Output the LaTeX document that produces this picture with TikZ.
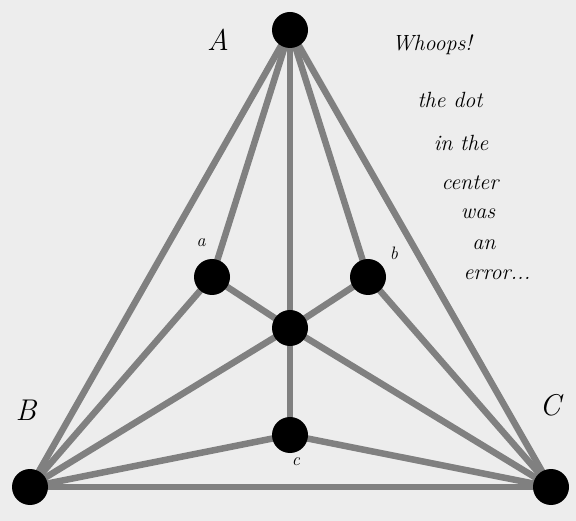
\documentclass[tikz,border=0pt]{standalone}
\begin{document}
\begin{tikzpicture}[x=1pt,y=-1pt,
  dot/.style={circle,fill=black,inner sep=0pt,minimum size=36pt},
  edge/.style={draw=black!50,line width=6.5pt},
  lab/.style={font=\itshape}]
\fill[black!7] (0,0) rectangle (576,521);
\useasboundingbox (0,0) rectangle (576,521);
\coordinate (A) at (290,30);
\coordinate (B) at (30,487);
\coordinate (C) at (551,487);
\coordinate (a) at (212,277);
\coordinate (b) at (368,277);
\coordinate (m) at (290,328);
\coordinate (c) at (290,435);
\foreach \u/\v in {A/B,A/C,B/C,A/a,A/b,A/m,m/c,a/B,a/m,b/m,b/C,m/B,m/C,c/B,c/C}
  \draw[edge] (\u) -- (\v);
\foreach \p in {A,B,C,a,b,m,c}
  \node[dot] (n\p) at (\p) {};
\node[lab,font=\itshape\fontsize{30}{30}\selectfont] (lA) at (218,40) {A};
\node[lab,font=\itshape\fontsize{30}{30}\selectfont] (lB) at (26,410) {B};
\node[lab,font=\itshape\fontsize{30}{30}\selectfont] (lC) at (550,405) {C};
\node[lab,font=\itshape\fontsize{18}{18}\selectfont] (la) at (201,243) {a};
\node[lab,font=\itshape\fontsize{18}{18}\selectfont] (lb) at (394,253) {b};
\node[lab,font=\itshape\fontsize{18}{18}\selectfont] (lc) at (296,462) {c};
\begin{scope}[every node/.style={font=\itshape\fontsize{22}{22}\selectfont}]
\node (t1) at (432,45) {Whoops!};
\node (t2) at (450,100) {the dot};
\node (t3) at (461,143) {in the};
\node (t4) at (470,183) {center};
\node (t5) at (478,214) {was};
\node (t6) at (484,245) {an};
\node (t7) at (497,275) {error...};
\end{scope}
\end{tikzpicture}
\end{document}
